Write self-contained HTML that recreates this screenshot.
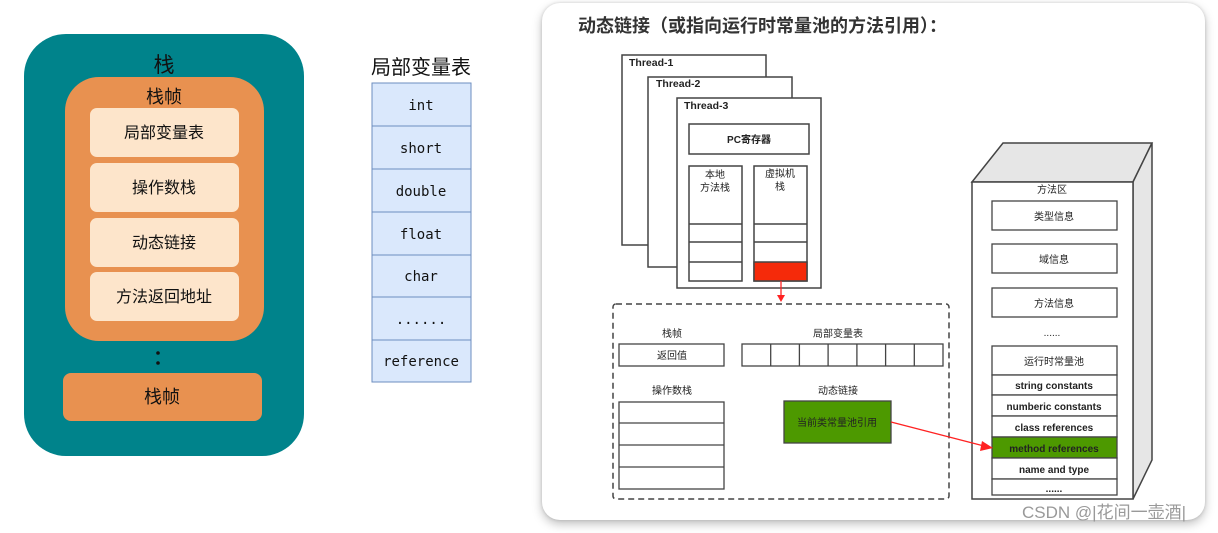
<!DOCTYPE html>
<html><head><meta charset="utf-8"><style>
html,body{margin:0;padding:0;background:#fff;width:1218px;height:533px;overflow:hidden}
.card{position:absolute;left:542px;top:3px;width:663px;height:517px;background:#fff;border-radius:18px;box-shadow:0 4px 10px rgba(0,0,0,0.25),0 0 3px rgba(0,0,0,0.15)}
svg{position:absolute;left:0;top:0}
text{font-family:"Liberation Sans","Noto Sans CJK SC",sans-serif}
.m{font-family:"DejaVu Sans Mono","Liberation Mono",monospace}
</style></head><body>
<div class="card"></div>
<svg width="1218" height="533" viewBox="0 0 1218 533">
<!-- left stack -->
<rect x="24" y="34" width="280" height="422" rx="42" fill="#00838b"/>
<text x="164" y="72" font-size="21" text-anchor="middle" fill="#111">栈</text>
<rect x="65" y="77" width="199" height="264" rx="34" fill="#e89150"/>
<text x="164" y="103" font-size="18" text-anchor="middle" fill="#111">栈帧</text>
<g fill="#fde5cb">
<rect x="90" y="108" width="149" height="49" rx="7"/>
<rect x="90" y="163" width="149" height="49" rx="7"/>
<rect x="90" y="218" width="149" height="49" rx="7"/>
<rect x="90" y="272" width="149" height="49" rx="7"/>
</g>
<g font-size="16" text-anchor="middle" fill="#111">
<text x="164" y="138">局部变量表</text>
<text x="164" y="193">操作数栈</text>
<text x="164" y="248">动态链接</text>
<text x="164" y="302">方法返回地址</text>
</g>
<circle cx="158" cy="353" r="1.8" fill="#111"/><circle cx="158" cy="363" r="1.8" fill="#111"/>
<rect x="63" y="373" width="199" height="48" rx="8" fill="#e89150"/>
<text x="162" y="403" font-size="18" text-anchor="middle" fill="#111">栈帧</text>
<!-- table -->
<text x="421" y="74" font-size="20" text-anchor="middle" fill="#111">局部变量表</text>
<rect x="372" y="83" width="99" height="299" fill="#dae8fc" stroke="#6c8ebf"/>
<g stroke="#6c8ebf"><line x1="372" y1="126" x2="471" y2="126"/><line x1="372" y1="169" x2="471" y2="169"/><line x1="372" y1="212" x2="471" y2="212"/><line x1="372" y1="255" x2="471" y2="255"/><line x1="372" y1="297" x2="471" y2="297"/><line x1="372" y1="340" x2="471" y2="340"/></g>
<g font-size="14" text-anchor="middle" fill="#111">
<text class="m" x="421" y="110">int</text><text class="m" x="421" y="153">short</text><text class="m" x="421" y="196">double</text><text class="m" x="421" y="239">float</text><text class="m" x="421" y="281">char</text><text class="m" x="421" y="324">......</text><text class="m" x="421" y="366">reference</text>
</g>
<!-- right title -->
<text x="578" y="32" font-size="18" font-weight="bold" fill="#333">动态链接（或指向运行时常量池的方法引用）：</text>
<!-- threads -->
<g stroke="#444" stroke-width="1.5" fill="#fff">
<rect x="622" y="55" width="144" height="190"/>
<rect x="648" y="77" width="144" height="190"/>
<rect x="677" y="98" width="144" height="190"/>
<rect x="689" y="124" width="120" height="30"/>
<rect x="689" y="166" width="53" height="115"/>
<rect x="754" y="166" width="53" height="115"/>
<line x1="689" y1="224" x2="742" y2="224"/><line x1="689" y1="242" x2="742" y2="242"/><line x1="689" y1="262" x2="742" y2="262"/>
<line x1="754" y1="224" x2="807" y2="224"/><line x1="754" y1="242" x2="807" y2="242"/>
<rect x="754" y="262" width="53" height="19" fill="#f52a0a"/>
</g>
<g font-size="10.5" font-weight="bold" fill="#222">
<text x="629" y="66">Thread-1</text><text x="656" y="87">Thread-2</text><text x="684" y="109">Thread-3</text>
</g>
<g font-size="10" text-anchor="middle" fill="#222">
<text x="749" y="143" font-weight="bold">PC寄存器</text>
<text x="715" y="178">本地</text><text x="715" y="191">方法栈</text>
<text x="780" y="177">虚拟机</text><text x="780" y="190">栈</text>
</g>
<line x1="781" y1="281" x2="781" y2="296" stroke="#f22" stroke-width="1.3"/>
<polygon points="777,295 785,295 781,302" fill="#f22"/>
<!-- dashed frame -->
<rect x="613" y="304" width="336" height="195" rx="3" fill="none" stroke="#444" stroke-width="1.5" stroke-dasharray="6,4"/>
<g stroke="#444" stroke-width="1.3" fill="#fff">
<rect x="619" y="344" width="105" height="22"/>
<rect x="742" y="344" width="201" height="22"/>
<line x1="770.7" y1="344" x2="770.7" y2="366"/><line x1="799.4" y1="344" x2="799.4" y2="366"/><line x1="828.1" y1="344" x2="828.1" y2="366"/><line x1="856.9" y1="344" x2="856.9" y2="366"/><line x1="885.6" y1="344" x2="885.6" y2="366"/><line x1="914.3" y1="344" x2="914.3" y2="366"/>
<rect x="619" y="402" width="105" height="87"/>
<line x1="619" y1="423" x2="724" y2="423"/><line x1="619" y1="445" x2="724" y2="445"/><line x1="619" y1="467" x2="724" y2="467"/>
<rect x="784" y="401" width="107" height="42" fill="#4d9900"/>
</g>
<g font-size="10" text-anchor="middle" fill="#222">
<text x="672" y="337">栈帧</text><text x="838" y="337">局部变量表</text>
<text x="672" y="394">操作数栈</text><text x="838" y="394">动态链接</text>
<text x="672" y="359">返回值</text>
</g>
<text x="837" y="426" font-size="10" text-anchor="middle" fill="#222">当前类常量池引用</text>
<!-- method area -->
<g stroke="#444" stroke-width="1.5">
<polygon points="972,182 1003,143 1152,143 1133,182" fill="#e6e6e6"/>
<polygon points="1133,182 1152,143 1152,460 1133,499" fill="#e6e6e6"/>
<rect x="972" y="182" width="161" height="317" fill="#fff"/>
</g>
<g stroke="#444" stroke-width="1.3" fill="#fff">
<rect x="992" y="201" width="125" height="29"/>
<rect x="992" y="244" width="125" height="29"/>
<rect x="992" y="288" width="125" height="29"/>
<rect x="992" y="346" width="125" height="29"/>
<rect x="992" y="375" width="125" height="20"/>
<rect x="992" y="395" width="125" height="21"/>
<rect x="992" y="416" width="125" height="21"/>
<rect x="992" y="437" width="125" height="21" fill="#4d9900"/>
<rect x="992" y="458" width="125" height="21"/>
<rect x="992" y="479" width="125" height="16"/>
</g>
<g font-size="10" text-anchor="middle" fill="#222">
<text x="1052" y="193">方法区</text>
<text x="1054" y="220">类型信息</text>
<text x="1054" y="263">域信息</text>
<text x="1054" y="307">方法信息</text>
<text x="1052" y="336">......</text>
<text x="1054" y="365">运行时常量池</text>
</g>
<g font-size="10" font-weight="bold" text-anchor="middle" fill="#222">
<text x="1054" y="389">string constants</text>
<text x="1054" y="410">numberic constants</text>
<text x="1054" y="431">class references</text>
<text x="1054" y="452">method references</text>
<text x="1054" y="473">name and type</text>
<text x="1054" y="492">......</text>
</g>
<line x1="891" y1="422" x2="984" y2="446" stroke="#f22" stroke-width="1.3"/>
<polygon points="993,448 982,441 980,451" fill="#f22"/>
<text x="1022" y="518" font-size="17" fill="#999">CSDN @|花间一壶酒|</text>
</svg>
</body></html>
